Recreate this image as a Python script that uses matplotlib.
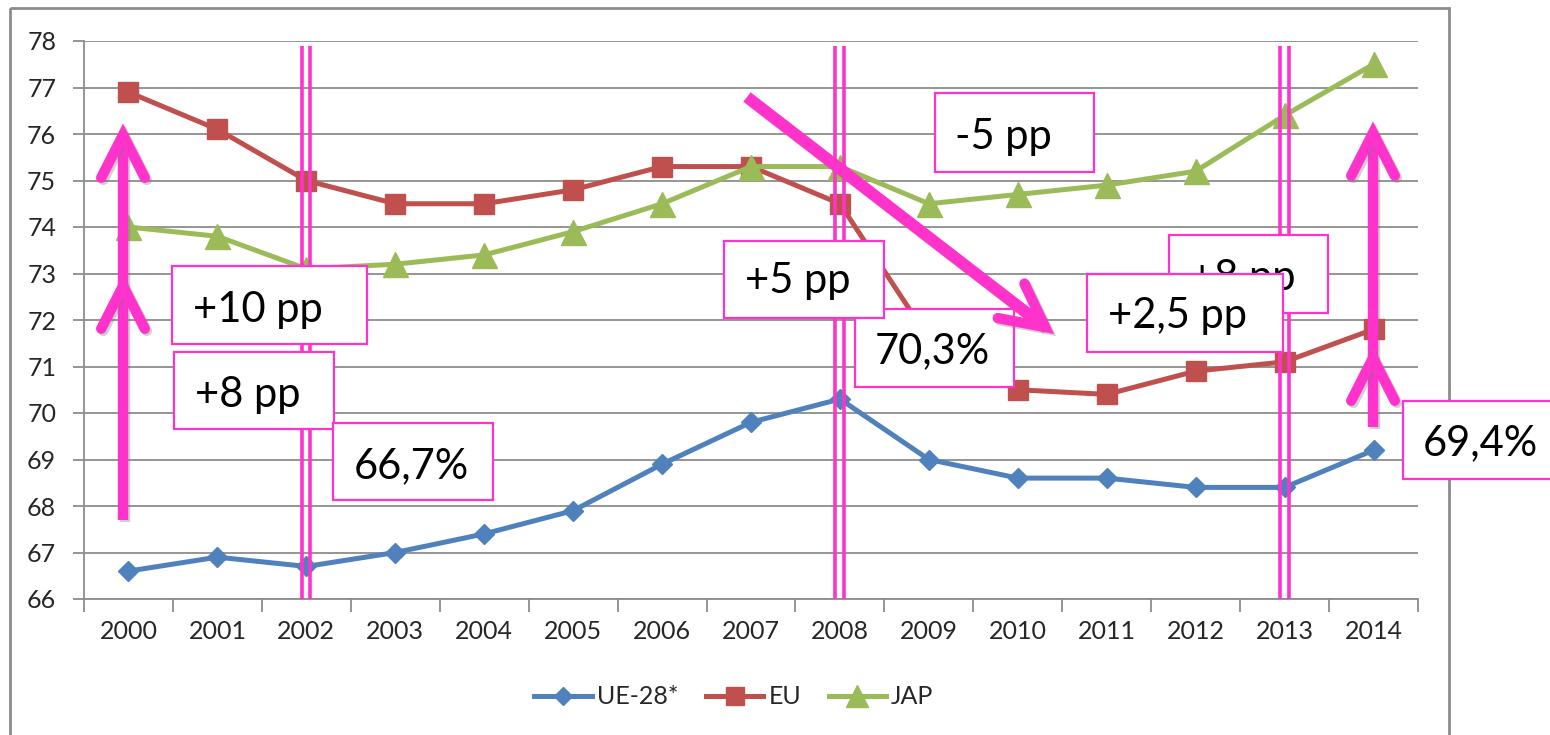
import matplotlib
matplotlib.use("Agg")
import matplotlib.pyplot as plt
import matplotlib.patheffects as pe
from matplotlib.patches import Rectangle
import numpy as np

plt.rcParams['font.family'] = ['Lato', 'DejaVu Sans']

# ---------------- data ----------------
years = ["2000", "2001", "2002", "2003", "2004", "2005", "2006", "2007",
         "2008", "2009", "2010", "2011", "2012", "2013", "2014"]
ue28 = [66.6, 66.9, 66.7, 67.0, 67.4, 67.9, 68.9, 69.8, 70.3, 69.0, 68.6, 68.6, 68.4, 68.4, 69.2]
eu = [76.9, 76.1, 75.0, 74.5, 74.5, 74.8, 75.3, 75.3, 74.5, 71.6, 70.5, 70.4, 70.9, 71.1, 71.8]
jap = [74.0, 73.8, 73.1, 73.2, 73.4, 73.9, 74.5, 75.3, 75.3, 74.5, 74.7, 74.9, 75.2, 76.4, 77.5]
series_labels = ["UE-28*", "EU", "JAP"]
yticks = list(range(66, 79))

# annotation layer contents
boxes = [  # (label, x0, y0, x1, y1, text_x, baseline)  -- pixel layout of callouts
    ("+10 pp", 172, 266, 367, 344, 193, 322),
    ("+8 pp", 174, 352, 334, 429, 195, 407),
    ("66,7%", 333, 423, 493, 500, 354, 478),
    ("70,3%", 855, 309, 1014, 387, 875, 363),
    ("+5 pp", 724, 241, 884, 318, 745, 293),
    ("-5 pp", 935, 93, 1094, 172, 955, 149),
    ("+8 pp", 1169, 235, 1328, 313, 1190, 290),
    ("+2,5 pp", 1087, 274, 1283, 352, 1108, 328),
    ("69,4%", 1403, 401, 1565, 479, 1423, 455),
]
marker_years = [2, 8, 13]  # double vertical marker lines (year index)

BLUE = "#4F81BD"
RED = "#C0504D"
GREEN = "#9BBB59"
MAG = "#FF33CC"
GRID = "#8C8C8C"

W, H = 1550, 735
fig = plt.figure(figsize=(W / 100, H / 100), dpi=100)
fig.patch.set_facecolor("white")

ax = fig.add_axes([84 / W, 1 - 599 / H, (1418 - 84) / W, (599 - 41) / H])
x = np.arange(len(years))

ax.plot(x, ue28, color=BLUE, lw=3.6, marker="D", ms=10.5, label=series_labels[0], zorder=3)
ax.plot(x, eu, color=RED, lw=3.6, marker="s", ms=15, label=series_labels[1], zorder=3)
ax.plot(x, jap, color=GREEN, lw=3.6, marker="^", ms=18, label=series_labels[2], zorder=3)

ax.set_xlim(-0.5, len(years) - 0.5)
ax.set_ylim(66, 78)
ax.set_yticks(yticks)
ax.set_xticks(x)
ax.set_xticklabels(years)
ax.set_xticks(np.arange(-0.5, len(years)), minor=True)
ax.tick_params(axis="x", which="major", length=0, pad=15, labelsize=18, labelcolor="#262626")
ax.tick_params(axis="x", which="minor", length=9, width=1.3, color=GRID, direction="out")
ax.tick_params(axis="y", length=8, width=1.3, color=GRID, pad=12, labelsize=18, labelcolor="#262626")
ax.grid(axis="y", color=GRID, lw=1.3, zorder=0)
ax.set_axisbelow(True)
for s in ["top", "right"]:
    ax.spines[s].set_visible(False)
for s in ["left", "bottom"]:
    ax.spines[s].set_color(GRID)
    ax.spines[s].set_linewidth(1.3)

# double vertical marker lines
for yi in marker_years:
    for off in (-0.05, 0.045):
        ax.plot([yi + off, yi + off], [66, 77.9], color=MAG, lw=2.6, zorder=4,
                solid_capstyle="butt")

leg = ax.legend(loc="center", bbox_to_anchor=(734 / W, 1 - 697 / H),
                bbox_transform=fig.transFigure, ncol=3, frameon=False,
                fontsize=18, handlelength=2.3, handletextpad=0.2, columnspacing=1.1,
                markerscale=0.85)
for t in leg.get_texts():
    t.set_color("#262626")

# ---------------- overlay annotation layer (pixel space) ----------------
ov = fig.add_axes([0, 0, 1, 1], zorder=5)
ov.set_xlim(0, W)
ov.set_ylim(H, 0)
ov.axis("off")
ov.patch.set_alpha(0)

# outer chart border
ov.add_patch(Rectangle((10, 8), 1449 - 10, 760, fill=False, ec="#8C8C8C", lw=2.0,
                       clip_on=False, zorder=1))

for i, (lab, x0, y0, x1, y1, tx, by) in enumerate(boxes):
    z = 2 + i * 0.05
    ov.add_patch(Rectangle((x0, y0), x1 - x0, y1 - y0, fc="white", ec=MAG, lw=1.6,
                           clip_on=False, zorder=z))
    ov.text(tx, by, lab, fontsize=30, va="baseline", ha="left", color="black",
            zorder=z + 0.02, clip_on=False)

shadow = [pe.SimpleLineShadow(offset=(1.5, -1.5), shadow_color="#777777", alpha=0.35), pe.Normal()]


def chevron(tip, direction, length=48, ang=27):
    dx, dy = direction
    a = np.arctan2(-dy, -dx)
    pts = []
    for s in (1, -1):
        b = a + s * np.deg2rad(ang)
        pts.append((tip[0] + length * np.cos(b), tip[1] + length * np.sin(b)))
    xs = [pts[0][0], tip[0], pts[1][0]]
    ys = [pts[0][1], tip[1], pts[1][1]]
    ov.plot(xs, ys, color=MAG, lw=7.5, solid_capstyle="round", solid_joinstyle="miter",
            zorder=3, path_effects=shadow)


def arrow(tail, tip, extra_tips=(), lw=7.5):
    ov.plot([tail[0], tip[0]], [tail[1], tip[1]], color=MAG, lw=lw,
            solid_capstyle="butt", zorder=3, path_effects=shadow)
    d = (tip[0] - tail[0], tip[1] - tail[1])
    chevron(tip, d)
    for t in extra_tips:
        chevron(t, d)


arrow((123, 520), (123, 135), extra_tips=[(123, 286)])
arrow((1373, 427), (1373, 133), extra_tips=[(1373, 358)])
arrow((747, 97), (1045, 327), lw=8.5)

fig.savefig("out.png", dpi=100, facecolor="white")
